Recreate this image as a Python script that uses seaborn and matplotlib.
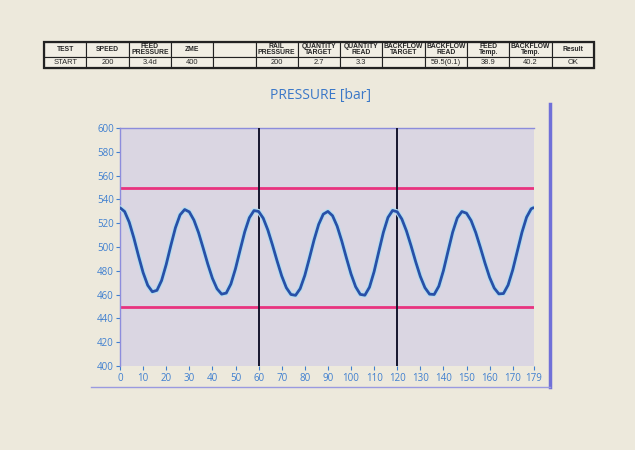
import seaborn as sns
import matplotlib.pyplot as plt
import pandas as pd

# Test summary table (top of the sheet)
table_headers = ["TEST", "SPEED", "FEED\nPRESSURE", "ZME", "", "RAIL\nPRESSURE",
                 "QUANTITY\nTARGET", "QUANTITY\nREAD", "BACKFLOW\nTARGET",
                 "BACKFLOW\nREAD", "FEED\nTemp.", "BACKFLOW\nTemp.", "Result"]
table_values = ["START", "200", "3.4d", "400", "", "200", "2.7", "3.3", "",
                "59.5(0.1)", "38.9", "40.2", "OK"]

# Pressure trace (bar), sample every 2 s
time_s = list(range(0, 179, 2)) + [179]
pressure = [
    533.0, 529.8, 520.8, 507.6, 492.6, 478.5, 467.8, 462.4,
    463.6, 471.8, 485.3, 501.2, 516.2, 527.0, 531.5,
    529.5, 522.6, 512.1, 499.1, 485.7, 473.7, 464.9, 460.4,
    461.3, 468.9, 481.8, 497.5, 512.8, 524.6, 530.6,
    529.9, 524.2, 514.3, 501.7, 488.3, 475.7, 465.8, 460.1,
    459.4, 465.0, 476.1, 490.7, 505.9, 519.0, 527.6,
    529.9, 526.3, 517.5, 505.0, 490.9, 477.4, 466.6, 460.2,
    459.5, 466.2, 479.3, 495.9, 512.2, 524.8, 530.7,
    529.6, 523.5, 513.5, 501.0, 487.6, 475.3, 465.8, 460.4,
    460.1, 467.0, 480.1, 496.4, 512.4, 524.4, 529.8,
    528.4, 522.2, 512.1, 499.6, 486.5, 474.5, 465.5, 460.6,
    460.9, 468.0, 480.7, 496.5, 512.3, 525.0, 532.1, 533.0,
]
limit_low, limit_high = 450, 550
cycle_marks = [60, 120]
x_ticks = [0, 10, 20, 30, 40, 50, 60, 70, 80, 90, 100, 110, 120, 130, 140, 150, 160, 170, 179]
y_ticks = list(range(400, 601, 20))

df = pd.DataFrame({"Time": time_s, "Pressure": pressure})

sns.set_theme(style="white")
plt.rcParams["font.family"] = ["Open Sans", "DejaVu Sans"]

paper = "#EDE9DC"
tick_blue = "#3F7FD0"
fig = plt.figure(figsize=(6.35, 4.5), dpi=100)
fig.patch.set_facecolor(paper)

# Table
tax = fig.add_axes([44 / 635, 1 - 68 / 450, 550 / 635, 26 / 450])
tax.axis("off")
tbl = tax.table(cellText=[table_headers, table_values], bbox=[0, 0, 1, 1], cellLoc="center")
tbl.auto_set_font_size(False)
for (r, c), cell in tbl.get_celld().items():
    cell.set_facecolor("#F1EEE4")
    cell.set_edgecolor("#222222")
    cell.set_linewidth(0.8)
    cell.set_height(0.58 if r == 0 else 0.42)
    txt = cell.get_text()
    txt.set_fontfamily(["Liberation Sans", "DejaVu Sans"])
    txt.set_fontsize(4.9 if r == 0 else 5.4)
    txt.set_linespacing(0.85)
    if r == 0:
        txt.set_fontweight("bold")
tax.add_patch(plt.Rectangle((0, 0), 1, 1, transform=tax.transAxes, fill=False,
                            edgecolor="#222222", linewidth=1.6, clip_on=False))

# Chart frame (right bar and bottom rule)
frame = fig.add_axes([91 / 635, 1 - 387 / 450, 459 / 635, 283 / 450])
frame.set_facecolor("none")
frame.set_xticks([])
frame.set_yticks([])
for side in ["left", "top"]:
    frame.spines[side].set_visible(False)
frame.spines["right"].set_color("#7070D8")
frame.spines["right"].set_linewidth(2.5)
frame.spines["bottom"].set_color("#9A9AE0")
frame.spines["bottom"].set_linewidth(1.0)

# Main chart
ax = fig.add_axes([120 / 635, 1 - 366 / 450, 413.5 / 635, 238 / 450])
ax.set_facecolor("#DAD6E2")

ax.axhline(limit_high, color="#E8337F", linewidth=2, zorder=2)
ax.axhline(limit_low, color="#E8337F", linewidth=2, zorder=2)
for m in cycle_marks:
    ax.axvline(m, color="#15152E", linewidth=1.4, zorder=3)

sns.lineplot(data=df, x="Time", y="Pressure", ax=ax, color="#B4DDF0", linewidth=3.6, zorder=4)
sns.lineplot(data=df, x="Time", y="Pressure", ax=ax, color="#2850A8", linewidth=2.0, zorder=5)

ax.set_xlim(0, 179)
ax.set_ylim(400, 600)
ax.set_xticks(x_ticks)
ax.set_yticks(y_ticks)
ax.set_xlabel("")
ax.set_ylabel("")
ax.tick_params(axis="both", colors=tick_blue, labelsize=7, length=3, width=0.8,
               direction="out", bottom=True, left=True, pad=1.5)
ax.tick_params(axis="x", pad=2)
for side in ["right", "bottom"]:
    ax.spines[side].set_visible(False)
for side in ["left", "top"]:
    ax.spines[side].set_color("#8C8CDC")
    ax.spines[side].set_linewidth(1.0)

fig.text(320 / 635, 1 - 96 / 450, "PRESSURE [bar]", ha="center", va="center",
         fontsize=10, color="#3B78C8")

fig.savefig("out.png", dpi=100, facecolor=paper)
